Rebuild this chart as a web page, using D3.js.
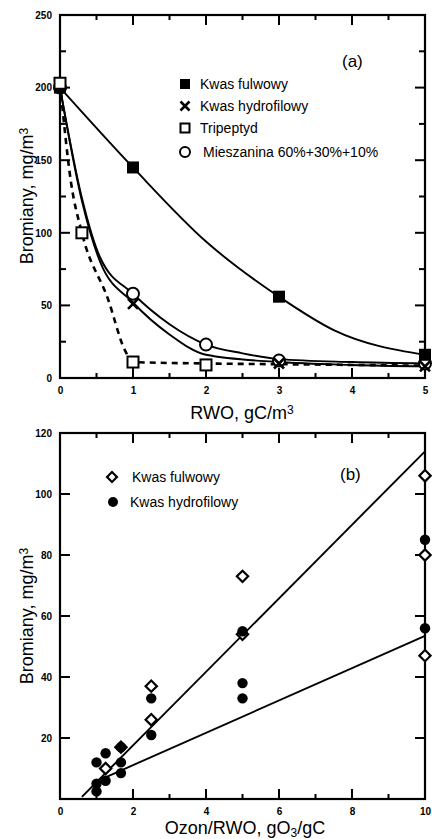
<!DOCTYPE html>
<html>
<head>
<meta charset="utf-8">
<script src="https://cdn.jsdelivr.net/npm/d3@7"></script>
<style>
  body { margin: 0; background: #fff; }
  svg { display: block; font-family: "Liberation Sans", Arial, sans-serif; }
  .tick text { font-size: 10px; font-weight: bold; fill: #000; }
</style>
</head>
<body>
<div id="chart"></div>
<script>
// ---- panel (a): Bromiany vs RWO ----
var rwoFulw  = [0, 1, 3, 5],        brFulw  = [200, 145, 56, 16];
var rwoHydro = [0, 1, 3, 5],        brHydro = [200, 51, 10, 8];
var rwoTri   = [0, 0.3, 1, 2],      brTri   = [203, 100, 11, 9];
var rwoMix   = [0, 1, 2, 3, 5],     brMix   = [200, 58, 23, 12, 10];

// fitted curves
var fitFulwX  = [0, 1, 2, 3, 3.75, 5],                 fitFulwY  = [200, 145, 94, 56, 33, 16];
var fitHydroX = [0, 0.3, 0.55, 1, 1.5, 2, 3, 4, 5],     fitHydroY = [200, 122, 80, 52, 30, 16, 11, 9, 8];
var fitMixX   = [0, 0.3, 0.55, 1, 1.5, 2, 2.5, 3, 4, 5], fitMixY  = [200, 124, 83, 58, 37, 23, 17, 13, 11, 10];
var fitTriX   = [0, 0.15, 0.3, 0.66, 0.89, 1, 2, 3, 4, 5], fitTriY = [203, 135, 100, 54, 19, 11, 10, 9.5, 9, 8.5];

var legendA = ["Kwas fulwowy", "Kwas hydrofilowy", "Tripeptyd", "Mieszanina 60%+30%+10%"];
var xTicksA = [0, 1, 2, 3, 4, 5];
var xMinorA = [0.5, 1.5, 2.5, 3.5, 4.5];
var yTicksA = [0, 50, 100, 150, 200, 250];
var yMinorA = [25, 75, 125, 175, 225];

// ---- panel (b): Bromiany vs Ozon/RWO ----
var ozFulw   = [1.25, 1.67, 2.5, 2.5, 5, 5, 10, 10, 10];
var brFulwB  = [10, 17, 37, 26, 73, 54, 106, 80, 47];
var ozHydro  = [1, 1, 1, 1.25, 1.25, 1.67, 1.67, 1.67, 2.5, 2.5, 5, 5, 5, 10, 10];
var brHydroB = [12, 5, 2.5, 15, 6, 17, 12, 8.5, 33, 21, 55, 38, 33, 85, 56];

var lineFulwX  = [0.6, 10], lineFulwY  = [0.7, 114];
var lineHydroX = [1, 10],   lineHydroY = [5.8, 53.5];

var legendB = ["Kwas fulwowy", "Kwas hydrofilowy"];
var xTicksB = [0, 2, 4, 6, 8, 10];
var xMinorB = [1, 3, 5, 7, 9];
var yTicksB = [20, 40, 60, 80, 100, 120];

var W = 432, H = 839;
var svg = d3.select("#chart").append("svg")
    .attr("width", W)
    .attr("height", H);

function pts(xs, ys) {
  return xs.map(function(x, i) { return [x, ys[i]]; });
}

// inward tick marks: a thin filled rect per tick
function tickMarks(g, vals, scale, horiz, at, len) {
  g.selectAll(null).data(vals).enter().append("rect")
    .attr("x", function(d) { return horiz ? scale(d) - 1 : Math.min(at, at + len); })
    .attr("y", function(d) { return horiz ? Math.min(at, at + len) : scale(d) - 1; })
    .attr("width", horiz ? 2 : Math.abs(len))
    .attr("height", horiz ? Math.abs(len) : 2)
    .attr("fill", "#000");
}

// frame, inward ticks on all four sides, labels through d3 axes
function drawFrame(x, y, xMaj, xMin, yMaj, yMin) {
  var g = svg.append("g");
  var x0 = x.range()[0], x1 = x.range()[1], y0 = y.range()[0], y1 = y.range()[1];

  g.append("g").attr("transform", "translate(0," + y0 + ")")
    .call(d3.axisBottom(x).tickValues(xMaj).tickSize(0).tickPadding(9).tickFormat(d3.format("d")))
    .call(function(s) { s.select(".domain").remove(); });
  g.append("g").attr("transform", "translate(" + x0 + ",0)")
    .call(d3.axisLeft(y).tickValues(yMaj).tickSize(0).tickPadding(8))
    .call(function(s) { s.select(".domain").remove(); });

  g.append("rect")
    .attr("x", x0).attr("y", y1)
    .attr("width", x1 - x0).attr("height", y0 - y1)
    .attr("fill", "none").attr("stroke", "#000").attr("stroke-width", 2.2);

  var t = svg.append("g").attr("class", "inticks");
  tickMarks(t, xMaj, x, true, y0, -10);
  tickMarks(t, xMin, x, true, y0, -5);
  tickMarks(t, xMaj, x, true, y1, 10);
  tickMarks(t, xMin, x, true, y1, 5);
  tickMarks(t, yMaj, y, false, x0, 10);
  tickMarks(t, yMaj, y, false, x1, -10);
  tickMarks(t, yMin, y, false, x0, 6);
  tickMarks(t, yMin, y, false, x1, -6);
  return g;
}

// axis title with super/subscript "3"
function title(x, y, parts, rotate) {
  var t = svg.append("text")
    .attr("text-anchor", "middle")
    .attr("font-size", 18)
    .attr("fill", "#000");
  if (rotate) t.attr("transform", "translate(" + x + "," + y + ") rotate(-90)");
  else t.attr("x", x).attr("y", y);
  parts.forEach(function(p) {
    var ts = t.append("tspan").text(p[0]);
    if (p[1] === "sup") ts.attr("font-size", 12).attr("baseline-shift", "45%");
    if (p[1] === "sub") ts.attr("font-size", 12).attr("baseline-shift", "-25%");
  });
}

var lineStyle = function(g, data, line, dash) {
  g.append("path")
    .datum(data)
    .attr("d", line)
    .attr("fill", "none")
    .attr("stroke", "#000")
    .attr("stroke-width", dash ? 2.6 : 1.9)
    .attr("stroke-dasharray", dash ? "6,5" : null);
};

var crossPath = "M-5,-5L5,5M-5,5L5,-5";

// ===== panel (a) =====
var xa = d3.scaleLinear().domain([0, 5]).range([60, 425]);
var ya = d3.scaleLinear().domain([0, 250]).range([378, 15]);

drawFrame(xa, ya, xTicksA, xMinorA, yTicksA, yMinorA);

var ga = svg.append("g");
var curveA = d3.line()
    .x(function(d) { return xa(d[0]); })
    .y(function(d) { return ya(d[1]); })
    .curve(d3.curveMonotoneX);

lineStyle(ga, pts(fitFulwX, fitFulwY), curveA);
lineStyle(ga, pts(fitHydroX, fitHydroY), curveA);
lineStyle(ga, pts(fitMixX, fitMixY), curveA);
lineStyle(ga, pts(fitTriX, fitTriY), curveA, true);

ga.selectAll("circle.mix").data(pts(rwoMix, brMix)).enter().append("circle")
    .attr("class", "mix")
    .attr("cx", function(d) { return xa(d[0]); })
    .attr("cy", function(d) { return ya(d[1]); })
    .attr("r", 6)
    .attr("fill", "#fff").attr("stroke", "#000").attr("stroke-width", 2);

ga.selectAll("path.hydro").data(pts(rwoHydro, brHydro)).enter().append("path")
    .attr("class", "hydro")
    .attr("transform", function(d) { return "translate(" + xa(d[0]) + "," + ya(d[1]) + ")"; })
    .attr("d", crossPath)
    .attr("stroke", "#000").attr("stroke-width", 2.6);

ga.selectAll("rect.fulw").data(pts(rwoFulw, brFulw)).enter().append("rect")
    .attr("class", "fulw")
    .attr("x", function(d) { return xa(d[0]) - 6; })
    .attr("y", function(d) { return ya(d[1]) - 6; })
    .attr("width", 12).attr("height", 12)
    .attr("fill", "#000");

ga.selectAll("rect.tri").data(pts(rwoTri, brTri)).enter().append("rect")
    .attr("class", "tri")
    .attr("x", function(d) { return xa(d[0]) - 5.5; })
    .attr("y", function(d) { return ya(d[1]) - 5.5; })
    .attr("width", 11).attr("height", 11)
    .attr("fill", "#fff").attr("stroke", "#000").attr("stroke-width", 2);

// legend (a)
var legA = svg.append("g").attr("font-size", 14).attr("fill", "#000");
var legAy = [84, 106, 128, 152];
legA.append("rect").attr("x", 180).attr("y", legAy[0] - 5).attr("width", 10).attr("height", 10).attr("fill", "#000");
legA.append("path").attr("transform", "translate(185," + legAy[1] + ")").attr("d", "M-4.5,-4.5L4.5,4.5M-4.5,4.5L4.5,-4.5")
    .attr("stroke", "#000").attr("stroke-width", 2.6);
legA.append("rect").attr("x", 180.5).attr("y", legAy[2] - 4.5).attr("width", 9).attr("height", 9)
    .attr("fill", "#fff").attr("stroke", "#000").attr("stroke-width", 2);
legA.append("circle").attr("cx", 185).attr("cy", legAy[3]).attr("r", 5)
    .attr("fill", "#fff").attr("stroke", "#000").attr("stroke-width", 2);
legA.selectAll("text").data(legendA).enter().append("text")
    .attr("x", function(d, i) { return i === 3 ? 203 : 200; })
    .attr("y", function(d, i) { return legAy[i] + 5; })
    .text(function(d) { return d; });

svg.append("text").attr("x", 342).attr("y", 67).attr("font-size", 17).text("(a)");

title(242, 419, [["RWO, gC/m"], ["3", "sup"]]);
title(33, 196, [["Bromiany, mg/m"], ["3", "sup"]], true);

// ===== panel (b) =====
var xb = d3.scaleLinear().domain([0, 10]).range([60, 425]);
var yb = d3.scaleLinear().domain([0, 120]).range([799, 433]);

drawFrame(xb, yb, xTicksB, xMinorB, yTicksB, []);

var gb = svg.append("g");
var lineB = d3.line()
    .x(function(d) { return xb(d[0]); })
    .y(function(d) { return yb(d[1]); });

lineStyle(gb, pts(lineFulwX, lineFulwY), lineB);
lineStyle(gb, pts(lineHydroX, lineHydroY), lineB);

gb.selectAll("rect.dia").data(pts(ozFulw, brFulwB)).enter().append("rect")
    .attr("class", "dia")
    .attr("transform", function(d) { return "translate(" + xb(d[0]) + "," + yb(d[1]) + ") rotate(45)"; })
    .attr("x", -4).attr("y", -4).attr("width", 8).attr("height", 8)
    .attr("fill", "#fff").attr("stroke", "#000").attr("stroke-width", 2.2);

gb.selectAll("circle.hyd").data(pts(ozHydro, brHydroB)).enter().append("circle")
    .attr("class", "hyd")
    .attr("cx", function(d) { return xb(d[0]); })
    .attr("cy", function(d) { return yb(d[1]); })
    .attr("r", 5.2)
    .attr("fill", "#000");

// legend (b)
var legB = svg.append("g").attr("font-size", 14).attr("fill", "#000");
var legBy = [477, 502];
legB.append("rect").attr("transform", "translate(112," + legBy[0] + ") rotate(45)")
    .attr("x", -3.5).attr("y", -3.5).attr("width", 7).attr("height", 7)
    .attr("fill", "#fff").attr("stroke", "#000").attr("stroke-width", 2.2);
legB.append("circle").attr("cx", 113).attr("cy", legBy[1]).attr("r", 5).attr("fill", "#000");
legB.selectAll("text").data(legendB).enter().append("text")
    .attr("x", function(d, i) { return i === 0 ? 132 : 130; })
    .attr("y", function(d, i) { return legBy[i] + 5; })
    .text(function(d) { return d; });

svg.append("text").attr("x", 340).attr("y", 480).attr("font-size", 17).text("(b)");

title(245, 834, [["Ozon/RWO, gO"], ["3", "sub"], ["/gC"]]);
title(33, 616, [["Bromiany, mg/m"], ["3", "sup"]], true);
</script>
</body>
</html>
